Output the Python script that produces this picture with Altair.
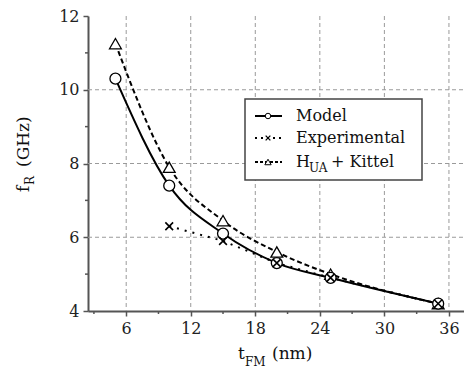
import altair as alt
import pandas as pd

# ---- data ----
t_fm = [5, 10, 15, 20, 25, 35]
model = [10.3, 7.4, 6.1, 5.3, 4.9, 4.2]
exp_t = [10, 15, 20, 25, 35]
experimental = [6.3, 5.9, 5.3, 4.9, 4.2]
hua_kittel = [11.25, 7.9, 6.45, 5.6, 5.0, 4.2]

x_ticks = [6, 12, 18, 24, 30, 36]
x_minor = [3, 9, 15, 21, 27, 33]
y_ticks = [4, 6, 8, 10, 12]
y_minor = [5, 7, 9, 11]
y_grid = [6, 8, 10]

FONT = "DejaVu Serif"
W, H = 376, 295
TOP = 8

df_model = pd.DataFrame({"t": t_fm, "f": model})
df_exp = pd.DataFrame({"t": exp_t, "f": experimental})
df_hua = pd.DataFrame({"t": t_fm, "f": hua_kittel})

xs = alt.Scale(domain=[2.45, 37.4], nice=False, zero=False)
ys = alt.Scale(domain=[4, 12], nice=False, zero=False)
x_axis = alt.Axis(values=x_ticks, grid=False, tickSize=5, labelPadding=4, title=None)
y_axis = alt.Axis(values=y_ticks, grid=False, tickSize=5, labelPadding=4, title=None)


def X():
    return alt.X("t:Q", scale=xs, axis=x_axis, title=None)


def Y():
    return alt.Y("f:Q", scale=ys, axis=y_axis, title=None)


# grid
vgrid = alt.Chart(pd.DataFrame({"t": x_ticks})).mark_rule(
    color="#9a9a9a", strokeDash=[4, 3], strokeWidth=1
).encode(x=X(), y=alt.value(0), y2=alt.value(H))
hgrid = alt.Chart(pd.DataFrame({"f": y_grid})).mark_rule(
    color="#9a9a9a", strokeDash=[4, 3], strokeWidth=1
).encode(y=Y(), x=alt.value(0), x2=alt.value(W))

# minor ticks
xminor = alt.Chart(pd.DataFrame({"t": x_minor})).mark_rule(
    color="#555", strokeWidth=1.5
).encode(x=X(), y=alt.value(H), y2=alt.value(H + 3))
yminor = alt.Chart(pd.DataFrame({"f": y_minor})).mark_rule(
    color="#555", strokeWidth=1.5
).encode(y=Y(), x=alt.value(0), x2=alt.value(-3))

# series lines
line_model = alt.Chart(df_model).mark_line(
    color="black", strokeWidth=2, interpolate="monotone"
).encode(x=X(), y=Y())
line_hua = alt.Chart(df_hua).mark_line(
    color="black", strokeWidth=2, strokeDash=[5, 3], interpolate="monotone"
).encode(x=X(), y=Y())
line_exp = alt.Chart(df_exp).mark_line(
    color="black", strokeWidth=2, strokeDash=[2, 6]
).encode(x=X(), y=Y())

# markers
pts_hua = alt.Chart(df_hua).mark_point(
    shape="triangle-up", size=140, filled=True, fill="white", stroke="black", strokeWidth=1.3, opacity=1
).encode(x=X(), y=Y())
pts_model = alt.Chart(df_model).mark_point(
    shape="circle", size=120, filled=True, fill="white", stroke="black", strokeWidth=1.3, opacity=1
).encode(x=X(), y=Y())
XPATH = "M-1,-1L1,1M1,-1L-1,1"
pts_exp = alt.Chart(df_exp).mark_point(
    shape=XPATH, size=60, filled=False, stroke="black", strokeWidth=1.6, opacity=1
).encode(x=X(), y=Y())

# legend (drawn manually, chart pixel coordinates)
one = pd.DataFrame({"a": [0]})
dy = 13 - TOP - 8 + 8  # keep legend at same page position as reference
off = 13 - (8 + TOP)
leg_box = alt.Chart(one).mark_rect(
    fill="white", stroke="#444", strokeWidth=1.5
).encode(x=alt.value(157), x2=alt.value(334), y=alt.value(86 + off), y2=alt.value(167 + off))

LX1, LX2, LM, TX = 167, 194, 180, 208
rows = [103 + off, 125 + off, 149 + off]
leg_l1 = alt.Chart(one).mark_rule(color="black", strokeWidth=2).encode(
    x=alt.value(LX1), x2=alt.value(LX2), y=alt.value(rows[0]))
leg_l2 = alt.Chart(one).mark_rule(color="black", strokeWidth=2, strokeDash=[2, 4]).encode(
    x=alt.value(LX1), x2=alt.value(LX2), y=alt.value(rows[1]))
leg_l3 = alt.Chart(one).mark_rule(color="black", strokeWidth=2, strokeDash=[3, 2]).encode(
    x=alt.value(LX1), x2=alt.value(LX2), y=alt.value(rows[2]))
leg_m1 = alt.Chart(one).mark_point(shape="circle", size=30, filled=True, fill="white",
                                   stroke="black", strokeWidth=1, opacity=1).encode(
    x=alt.value(LM), y=alt.value(rows[0]))
leg_m2 = alt.Chart(one).mark_point(shape=XPATH, size=22, filled=False, stroke="black",
                                   strokeWidth=1.3, opacity=1).encode(
    x=alt.value(LM), y=alt.value(rows[1]))
leg_m3 = alt.Chart(one).mark_point(shape="triangle-up", size=40, filled=True, fill="white",
                                   stroke="black", strokeWidth=1, opacity=1).encode(
    x=alt.value(LM), y=alt.value(rows[2]))


def txt(s, x, y, size=16, angle=0, baseline="middle"):
    return alt.Chart(one).mark_text(
        text=s, font=FONT, fontSize=size, color="#111", align="left",
        baseline=baseline, angle=angle
    ).encode(x=alt.value(x), y=alt.value(y))


leg_t = [
    txt("Model", TX, rows[0]),
    txt("Experimental", TX, rows[1]),
    txt("H", TX, rows[2]),
    txt("UA", TX + 13, rows[2] + 6, size=12),
    txt("+ Kittel", TX + 35, rows[2]),
]

# axis titles with subscripts (page-fixed positions)
xt = [
    txt("t", 150, 346 + off, size=17, baseline="alphabetic"),
    txt("FM", 157, 353 + off, size=12, baseline="alphabetic"),
    txt("(nm)", 184, 346 + off, size=17, baseline="alphabetic"),
]
yt = [
    txt("f", -59, 179 + off, size=17, angle=270, baseline="alphabetic"),
    txt("R", -54, 172 + off, size=12, angle=270, baseline="alphabetic"),
    txt("(GHz)", -59, 154 + off, size=17, angle=270, baseline="alphabetic"),
]

chart = alt.layer(
    vgrid, hgrid, xminor, yminor,
    line_exp, line_hua, line_model,
    pts_hua, pts_model, pts_exp,
    leg_box, leg_l1, leg_l2, leg_l3, leg_m1, leg_m2, leg_m3,
    *leg_t, *xt, *yt,
).properties(
    width=W, height=H,
    autosize=alt.AutoSizeParams(type="none"),
    padding={"left": 80, "top": TOP, "right": 0, "bottom": 362 - TOP - H},
).configure_view(stroke=None).configure_axis(
    domainColor="#555", domainWidth=2, tickColor="#555", tickWidth=1.5,
    labelFont=FONT, labelFontSize=16, labelColor="#222",
)

chart.save("out.html", embed_options={"renderer": "svg", "actions": False})
